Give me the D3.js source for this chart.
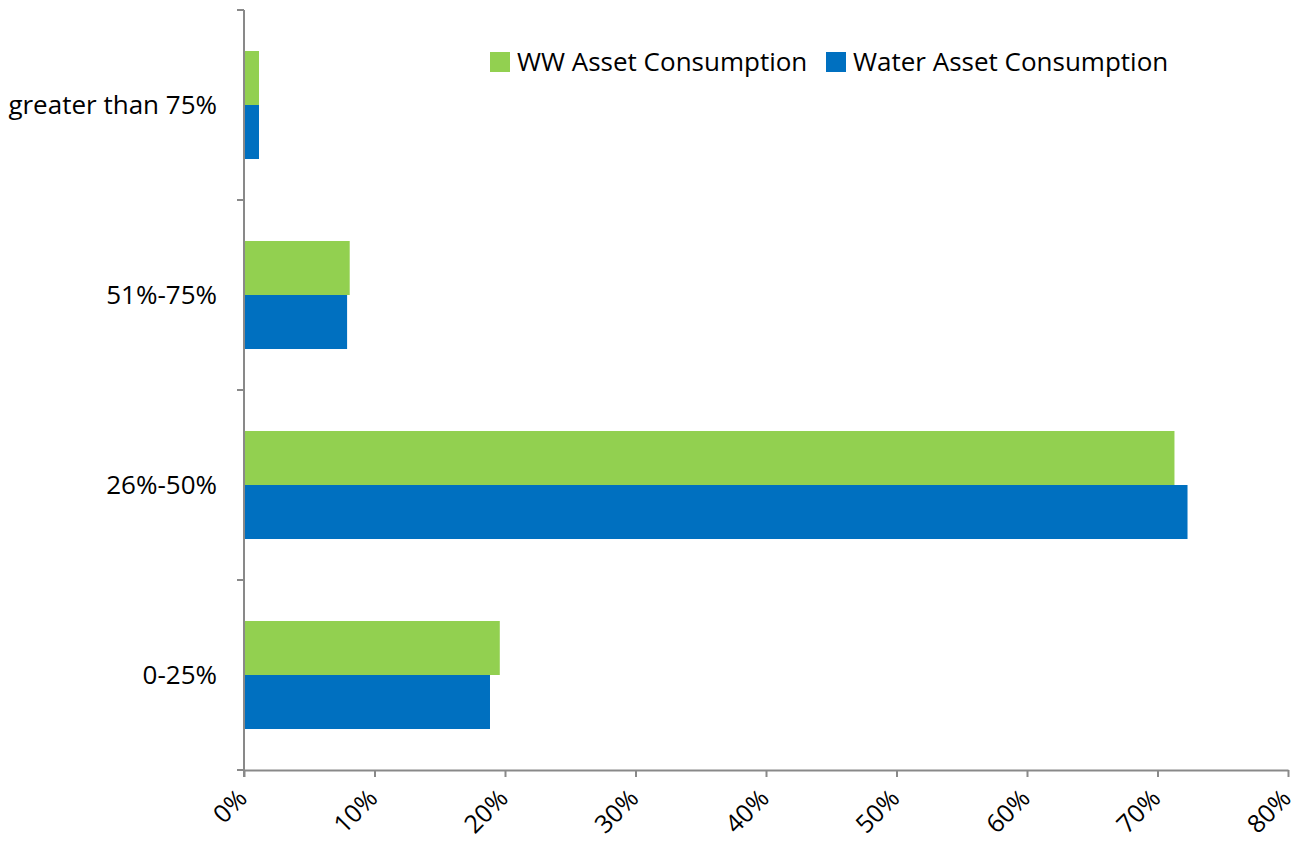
<!DOCTYPE html>
<html>
<head>
<meta charset="utf-8">
<script src="https://cdn.jsdelivr.net/npm/d3@7"></script>
<style>
  body { margin: 0; background: #fff; }
  text { font-family: "Open Sans", sans-serif; fill: #000; }
</style>
</head>
<body>
<svg id="chart" width="1300" height="844"></svg>
<script>
// data
const categories = ["greater than 75%", "51%-75%", "26%-50%", "0-25%"];
const seriesNames = ["WW Asset Consumption", "Water Asset Consumption"];
const wwValues = [1.15, 8.1, 71.3, 19.6];
const waterValues = [1.15, 7.9, 72.3, 18.85];
const xTicks = [0, 10, 20, 30, 40, 50, 60, 70, 80];
const colors = ["#92D050", "#0070C0"];

const svg = d3.select("#chart");
const plotLeft = 244, plotRight = 1288, plotTop = 10, plotBottom = 770;
const axisColor = "#898989";
const fontSize = 26;

const x = d3.scaleLinear().domain([0, 80]).range([plotLeft, plotRight]);
const y = d3.scaleBand().domain(categories).range([plotTop, plotBottom]);
const ySub = d3.scaleBand().domain(seriesNames).range([0, y.bandwidth()]).paddingOuter(0.759);

const series = [wwValues, waterValues];

// bars
const groups = svg.append("g")
    .selectAll("g")
    .data(categories)
    .enter()
    .append("g")
    .attr("transform", d => `translate(0,${y(d)})`);

groups.selectAll("rect")
    .data((d, i) => seriesNames.map((s, j) => ({name: s, value: series[j][i], color: colors[j]})))
    .enter()
    .append("rect")
    .attr("x", x(0))
    .attr("y", d => ySub(d.name))
    .attr("width", d => x(d.value) - x(0))
    .attr("height", ySub.bandwidth())
    .attr("fill", d => d.color);

// x axis
const xAxis = svg.append("g")
    .attr("transform", `translate(0,${plotBottom})`)
    .call(d3.axisBottom(x).tickValues(xTicks).tickSize(7).tickSizeOuter(0).tickFormat(d => d + "%"));
xAxis.select(".domain").attr("stroke", axisColor).attr("stroke-width", 2);
xAxis.selectAll(".tick line").attr("stroke", axisColor).attr("stroke-width", 2);
xAxis.selectAll(".tick text")
    .attr("font-size", 25)
    .attr("font-family", "\"Open Sans\", sans-serif")
    .attr("fill", "#000")
    .attr("text-anchor", "end")
    .attr("dy", null)
    .attr("y", 0)
    .attr("transform", "translate(4,30) rotate(-45)");

// y axis: line plus ticks at category boundaries
const yAxis = svg.append("g");
yAxis.append("line")
    .attr("x1", plotLeft).attr("x2", plotLeft)
    .attr("y1", plotTop).attr("y2", plotBottom + 7)
    .attr("stroke", axisColor).attr("stroke-width", 2);
yAxis.selectAll("line.tk")
    .data(categories.map(c => y(c)).concat([plotBottom]))
    .enter()
    .append("line")
    .attr("class", "tk")
    .attr("x1", plotLeft - 7).attr("x2", plotLeft)
    .attr("y1", d => d).attr("y2", d => d)
    .attr("stroke", axisColor).attr("stroke-width", 2);
yAxis.selectAll("text")
    .data(categories)
    .enter()
    .append("text")
    .attr("x", 217)
    .attr("y", d => y(d) + y.bandwidth() / 2)
    .attr("dy", "0.35em")
    .attr("text-anchor", "end")
    .attr("font-size", fontSize)
    .text(d => d);

// legend
const legendPos = [490, 826];
const legend = svg.append("g")
    .selectAll("g")
    .data(seriesNames)
    .enter()
    .append("g")
    .attr("transform", (d, i) => `translate(${legendPos[i]},52)`);
legend.append("rect")
    .attr("width", 20).attr("height", 20)
    .attr("fill", (d, i) => colors[i]);
legend.append("text")
    .attr("x", 27).attr("y", 10)
    .attr("dy", "0.35em")
    .attr("font-size", fontSize)
    .text(d => d);
</script>
</body>
</html>
